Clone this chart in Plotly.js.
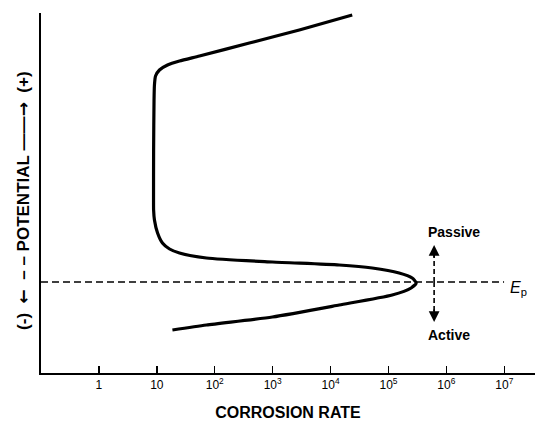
<!DOCTYPE html>
<html>
<head>
<meta charset="utf-8">
<script src="https://cdn.plot.ly/plotly-3.0.1.min.js"></script>
<style>html,body{margin:0;padding:0;background:#fff;}#chart{width:539px;height:427px;}</style>
</head>
<body>
<div id="chart"></div>
<script>
// Polarization curve (potential in arbitrary units, 0 = axis bottom)
var rate = [23660, 2886, 396, 54.5, 24.6, 15.3, 11.1, 9.5, 9.1, 8.95, 8.8, 8.77, 8.8, 9.1, 10.3, 12.5, 16.6, 24.6, 71.9, 988, 14125, 52360, 152800, 256400, 300600, 246000, 115900, 14125, 988, 71.9, 18.6];
var potential = [358, 343, 330, 317, 312, 308, 303, 297, 288, 273, 223, 173, 163, 153, 140, 130, 124, 120, 115, 111, 108, 105, 100, 95, 90, 85, 78, 68, 56, 48, 43];
var epPotential = 91;
var epRange = [0.1, 9.9e6];
var arrowRate = 6.14e5;
var passiveTip = 128;
var activeTip = 51;
var tickVals = [1, 10, 100, 1000, 10000, 100000, 1000000, 10000000];
var tickText = ['1', '10', '10<sup>2</sup>', '10<sup>3</sup>', '10<sup>4</sup>', '10<sup>5</sup>', '10<sup>6</sup>', '10<sup>7</sup>'];
var xRangeLog = [-1, 7.53];
var yRange = [0, 360];

var font = 'Liberation Sans, Arial, sans-serif';
var arrowFont = 'font-family:DejaVu Sans;font-weight:bold';
var nb = '\u00a0';
var yTitle = '<b>(-)' + nb + nb + '<span style="' + arrowFont + '">\u2190</span>' + nb + nb + '\u2013' + nb + '\u2013' + nb +
  'POTENTIAL' + nb + '\u2014\u2014<span style="' + arrowFont + '">\u2192</span>' + nb + nb + '(+)</b>';

var traces = [
  {x: epRange, y: [epPotential, epPotential], mode: 'lines', line: {color: '#000', width: 1.6, dash: '7px,4px'}, hoverinfo: 'skip'},
  {x: [arrowRate, arrowRate], y: [epPotential, passiveTip - 6], mode: 'lines', line: {color: '#000', width: 1.6, dash: '5px,3px'}, hoverinfo: 'skip'},
  {x: [arrowRate, arrowRate], y: [epPotential, activeTip + 6], mode: 'lines', line: {color: '#000', width: 1.6, dash: '5px,3px'}, hoverinfo: 'skip'},
  {x: rate, y: potential, mode: 'lines', line: {color: '#000', width: 3.2, shape: 'spline', smoothing: 0.6}, hoverinfo: 'skip'}
];

var layout = {
  width: 539, height: 427,
  margin: {l: 41, r: 4, t: 13, b: 54},
  paper_bgcolor: '#fff', plot_bgcolor: '#fff',
  showlegend: false,
  font: {family: font, color: '#000'},
  xaxis: {
    type: 'log', range: xRangeLog, showgrid: false, zeroline: false,
    showline: true, linecolor: '#000', linewidth: 2,
    ticks: 'inside', ticklen: 7, tickwidth: 1.5, tickcolor: '#000',
    tickvals: tickVals, ticktext: tickText,
    tickfont: {size: 12, family: font},
    title: {text: '<b>CORROSION RATE</b>', font: {size: 16, family: font}, standoff: 15}
  },
  yaxis: {
    range: yRange, showgrid: false, zeroline: false,
    showline: true, linecolor: '#000', linewidth: 2,
    ticks: '', showticklabels: false
  },
  annotations: [
    {xref: 'paper', yref: 'paper', x: 0, y: 0.478, xshift: -18, xanchor: 'center', yanchor: 'middle',
     textangle: -90, showarrow: false, text: yTitle,
     font: {size: 17, family: font, color: '#000'}},
    {x: Math.log10(arrowRate), y: passiveTip, ax: 0, ay: 14, xref: 'x', yref: 'y', showarrow: true,
     arrowhead: 2, arrowsize: 1.2, arrowwidth: 1.8, arrowcolor: '#000', text: ''},
    {x: Math.log10(arrowRate), y: activeTip, ax: 0, ay: -14, xref: 'x', yref: 'y', showarrow: true,
     arrowhead: 2, arrowsize: 1.2, arrowwidth: 1.8, arrowcolor: '#000', text: ''},
    {x: Math.log10(arrowRate), y: passiveTip + 13, xref: 'x', yref: 'y', showarrow: false, xanchor: 'left', xshift: -8,
     text: '<b>Passive</b>', font: {size: 14, family: font, color: '#000'}},
    {x: Math.log10(arrowRate), y: activeTip - 13, xref: 'x', yref: 'y', showarrow: false, xanchor: 'left', xshift: -8,
     text: '<b>Active</b>', font: {size: 14, family: font, color: '#000'}},
    {x: 7.25, y: epPotential - 6, xref: 'x', yref: 'y', showarrow: false,
     text: '<i>E</i><sub>p</sub>', font: {size: 16, family: font, color: '#000'}}
  ]
};

Plotly.newPlot('chart', traces, layout, {staticPlot: true, displayModeBar: false});
</script>
</body>
</html>
